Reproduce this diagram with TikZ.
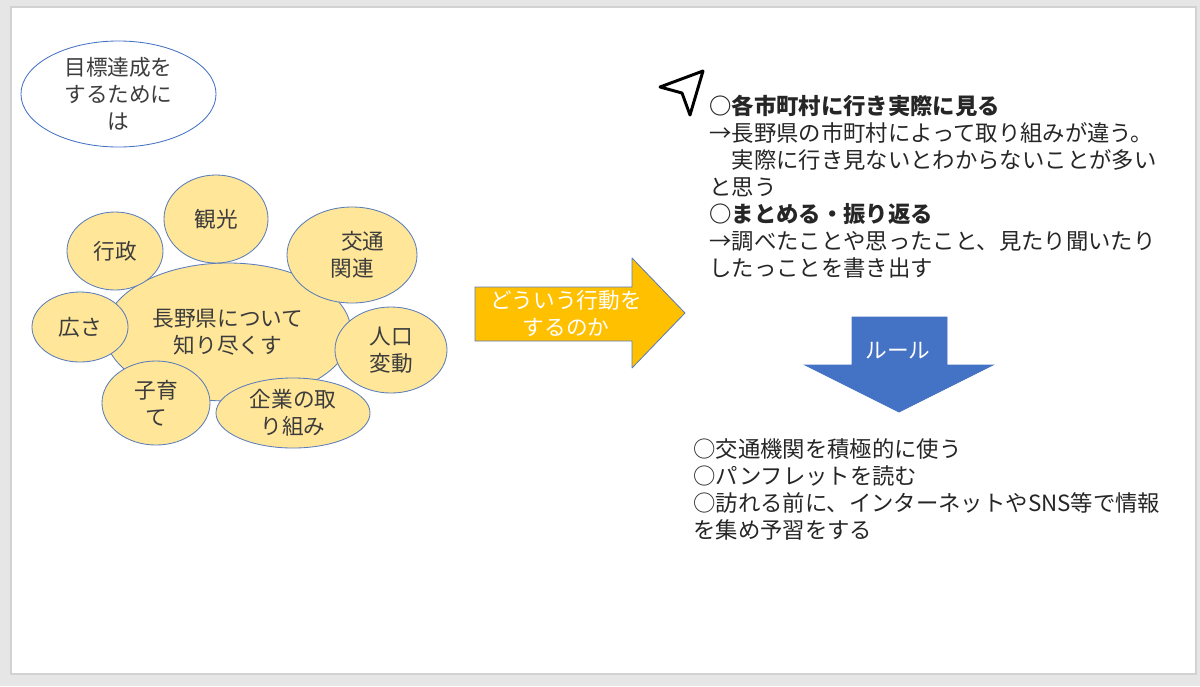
\documentclass[tikz,border=0pt]{standalone}
\usepackage{fontspec}
\setmainfont{Noto Sans CJK JP}
\usetikzlibrary{shapes.geometric}
\definecolor{slidegray}{HTML}{E6E6E6}
\definecolor{slideline}{HTML}{D2D2D2}
\definecolor{bubblefill}{HTML}{FFE699}
\definecolor{shapeline}{HTML}{5B7DBA}
\definecolor{arroworange}{HTML}{FFC000}
\definecolor{arrowblue}{HTML}{4472C4}
\definecolor{inktext}{HTML}{262626}
\tikzset{
	bubble/.style={ellipse, draw=shapeline, line width=0.6pt, fill=bubblefill, inner sep=0pt},
	bubbletext/.style={align=center, text=inktext!90, font=\fontsize{15.4}{19.2}\selectfont},
	notetext/.style={align=left, anchor=base west, text=inktext, inner sep=0pt, font=\fontsize{15.9}{19.1}\selectfont},
}

\begin{document}
\begin{tikzpicture}[x=0.025cm, y=-0.025cm]
			%%%%% START %%%%%
			
			\useasboundingbox[fill=slidegray] (0, 0) rectangle (1200, 686);
			\draw[fill=white, draw=slideline, line width=0.8pt] (11, 7) rectangle (1196, 674);
			
			\node[bubble, fill=white, draw=arrowblue, minimum width=4.875cm, minimum height=2.65cm,
				label={[bubbletext]center:目標達成を\\するために\\は}] (goal) at (118.5, 94) {};
			
			% center bubble first, the others sit on top of it
			\node[bubble, minimum width=6.15cm, minimum height=3.45cm,
				label={[bubbletext]center:長野県について\\知り尽くす}] (nagano) at (228, 332) {};
			\node[bubble, minimum width=2.6cm, minimum height=2.2cm,
				label={[bubbletext]center:観光}] (kanko) at (216, 219) {};
			\node[bubble, minimum width=2.4cm, minimum height=1.95cm,
				label={[bubbletext]center:行政}] (gyosei) at (115, 251) {};
			\node[bubble, minimum width=3.25cm, minimum height=2.4cm,
				label={[bubbletext]center:　交通\\関連}] (kotsu) at (352, 255) {};
			\node[bubble, minimum width=2.4cm, minimum height=1.75cm,
				label={[bubbletext]center:広さ}] (hirosa) at (80, 327) {};
			\node[bubble, minimum width=2.8cm, minimum height=2.15cm,
				label={[bubbletext]center:人口\\変動}] (jinko) at (391, 350) {};
			\node[bubble, minimum width=2.7cm, minimum height=2.1cm,
				label={[bubbletext]center:子育\\て}] (kosodate) at (156, 403) {};
			\node[bubble, minimum width=3.85cm, minimum height=1.75cm,
				label={[bubbletext]center:企業の取\\り組み}] (kigyo) at (293, 413) {};
			
			% orange arrow
			\draw[fill=arroworange, draw=shapeline, line width=0.6pt, line join=round]
				(475, 287) -- (632, 287) -- (632, 258) -- (685, 313) -- (632, 368) -- (632, 341) -- (475, 341) -- cycle;
			\node[bubbletext, text=white] (action) at (566, 313) {どういう行動を\\するのか};
			
			% cursor
			\draw[line width=2.1pt, line join=round] (660, 87) -- (682, 93) -- (690, 115) -- (703, 71) -- cycle;
			
			% base west = baseline of the last line
			\node[notetext] (visit) at (709, 276) {\textbf{○各市町村に行き実際に見る}\\→長野県の市町村によって取り組みが違う。\\　実際に行き見ないとわからないことが多い\\と思う\\\textbf{○まとめる・振り返る}\\→調べたことや思ったこと、見たり聞いたり\\したっことを書き出す};
			
			% blue arrow
			\draw[fill=arrowblue, draw=arrowblue, line width=0.6pt]
				(852, 317) -- (947, 317) -- (947, 365) -- (993, 365) -- (899, 412) -- (805, 365) -- (852, 365) -- cycle;
			\node[bubbletext, text=white] (rule) at (898, 351) {ルール};
			
			\node[notetext] (rules) at (693, 538) {○交通機関を積極的に使う\\○パンフレットを読む\\○訪れる前に、インターネットやSNS等で情報\\を集め予習をする};
			
			%%%%% END %%%%%
\end{tikzpicture}
\end{document}
